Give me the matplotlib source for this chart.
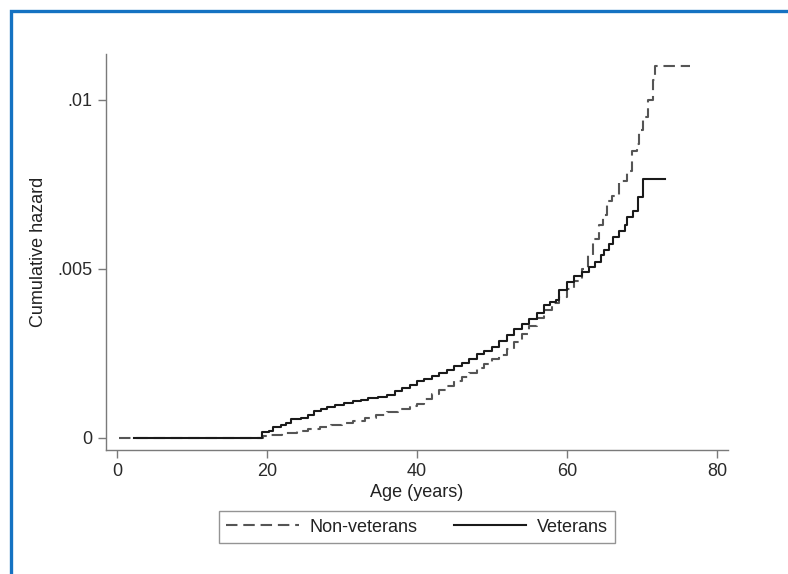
import matplotlib
matplotlib.use('Agg')
import matplotlib.pyplot as plt
from matplotlib.patches import Rectangle

plt.rcParams['font.family'] = ['Liberation Sans', 'DejaVu Sans']

# Nelson-Aalen style step curves (age in years, cumulative hazard)
vet_age = [2.3, 19.3, 20.2, 20.8, 21.8, 22.5, 23.2, 24.5, 25.5, 26.3, 27.2, 28.0, 29.0,
           30.2, 31.5, 32.5, 33.5, 34.8, 36.0, 37.0, 38.0, 39.0, 40.0, 41.0, 42.0,
           43.0, 44.0, 45.0, 46.0, 47.0, 48.0, 49.0, 50.0, 51.0, 52.0, 53.0, 54.0,
           55.0, 56.0, 57.0, 57.8, 58.5, 59.0, 60.0, 61.0, 62.0, 63.0, 63.8, 64.5,
           65.0, 65.6, 66.2, 67.0, 67.7, 68.0, 68.8, 69.5, 70.1, 73.1]
vet_haz = [0, 0.00018, 0.00022, 0.00033, 0.00038, 0.00045, 0.00056, 0.00060, 0.00068,
           0.00080, 0.00086, 0.00092, 0.00097, 0.00103, 0.00108, 0.00113, 0.00117,
           0.00122, 0.00128, 0.00138, 0.00148, 0.00156, 0.00170, 0.00176, 0.00184,
           0.00192, 0.00200, 0.00212, 0.00222, 0.00234, 0.00248, 0.00258, 0.00270,
           0.00288, 0.00305, 0.00322, 0.00338, 0.00352, 0.00370, 0.00392, 0.00402,
           0.00408, 0.00438, 0.00462, 0.00478, 0.00490, 0.00505, 0.00520, 0.00540,
           0.00556, 0.00575, 0.00595, 0.00612, 0.00630, 0.00654, 0.00672, 0.00713,
           0.00765, 0.00765]

nonvet_age = [0.2, 19.5, 20.5, 22.0, 24.0, 25.5, 27.0, 28.5, 30.0, 31.5, 33.0, 34.5,
              36.0, 37.5, 39.0, 40.0, 41.0, 42.0, 43.0, 44.0, 45.0, 46.0, 47.0, 48.0,
              49.0, 50.0, 51.0, 52.0, 53.0, 54.0, 55.0, 56.0, 57.0, 58.0, 59.0, 60.0,
              61.0, 62.0, 62.8, 63.5, 64.3, 64.8, 65.3, 66.0, 67.0, 68.0, 68.7, 69.3,
              69.6, 70.1, 70.8, 71.5, 71.8, 76.4]
nonvet_haz = [0, 0.00005, 0.00010, 0.00015, 0.00020, 0.00027, 0.00033, 0.00038, 0.00043,
              0.00050, 0.00058, 0.00067, 0.00078, 0.00087, 0.00095, 0.00102, 0.00115,
              0.00130, 0.00142, 0.00155, 0.00168, 0.00180, 0.00193, 0.00206, 0.00220,
              0.00233, 0.00247, 0.00263, 0.00285, 0.00308, 0.00332, 0.00355, 0.00378,
              0.00398, 0.00418, 0.00440, 0.00465, 0.00500, 0.00540, 0.00590, 0.00630,
              0.00660, 0.00700, 0.00715, 0.00760, 0.00790, 0.00850, 0.00870, 0.00910,
              0.00950, 0.01000, 0.01060, 0.01100, 0.01100]

xticks = [0, 20, 40, 60, 80]
yticks = [0, 0.005, 0.01]
ytick_labels = ['0', '.005', '.01']

FS = 13

fig = plt.figure(figsize=(7.88, 5.74), dpi=100)
ax = fig.add_axes([106 / 788, 1 - 450 / 574, 622 / 788, 396 / 574])

ln1, = ax.step(nonvet_age, nonvet_haz, where='post', color='#555555', lw=1.5,
               label='Non-veterans')
ln1.set_dashes([5.5, 2.8])
ax.step(vet_age, vet_haz, where='post', color='#1a1a1a', lw=1.5, label='Veterans')

ax.set_xlim(-1.47, 81.47)
ax.set_ylim(-0.000355, 0.01136)
ax.set_xticks(xticks)
ax.set_yticks(yticks)
ax.set_yticklabels(ytick_labels)
for s in ['top', 'right']:
    ax.spines[s].set_visible(False)
for s in ['left', 'bottom']:
    ax.spines[s].set_color('#7a7a7a')
    ax.spines[s].set_linewidth(1.0)
ax.tick_params(colors='#7a7a7a', labelcolor='#2a2a2a', labelsize=FS, length=6,
               width=1.0, pad=3.5)

ax.set_xlabel('Age (years)', fontsize=FS, color='#222222')
ax.xaxis.set_label_coords(0.5, -0.086)
ax.set_ylabel('Cumulative hazard', fontsize=FS, color='#222222')
ax.yaxis.set_label_coords(-0.095, 0.5)

leg = fig.legend(loc='center', bbox_to_anchor=(417 / 788, 1 - 527 / 574), ncol=2,
                 fontsize=FS, handlelength=4.0, handletextpad=0.6,
                 columnspacing=2.0, fancybox=False, borderpad=0.42, borderaxespad=0)
leg.get_frame().set_edgecolor('#7a7a7a')
leg.get_frame().set_linewidth(1.0)
for t in leg.get_texts():
    t.set_color('#222222')

# blue frame around the panel (only top and left edges visible in the crop)
fig.add_artist(Rectangle((10.5 / 788, -0.2), 1.5, 1.2 - 10.5 / 574,
                         transform=fig.transFigure, fill=False,
                         edgecolor='#1572c2', lw=2.4, clip_on=False))

fig.savefig('out.png', dpi=100, facecolor='white')
